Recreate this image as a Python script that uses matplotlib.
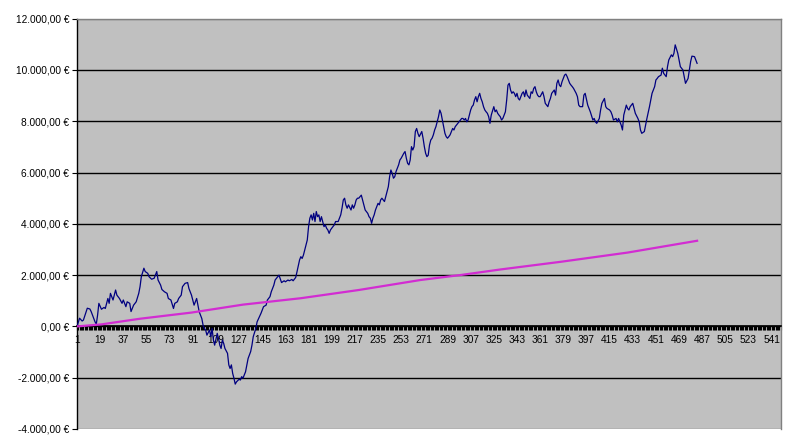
import matplotlib
matplotlib.use('Agg')
from matplotlib import pyplot as plt
from matplotlib.ticker import FuncFormatter

# blue series: day number -> balance in EUR
navy_day = [
    1, 3, 5, 6, 9, 11, 12, 15, 16, 17,
    18, 20, 22, 23, 25, 26, 27, 29, 31, 32,
    34, 36, 37, 39, 40, 42, 43, 45, 47, 49,
    50, 51, 53, 54, 56, 57, 59, 61, 63, 64,
    66, 67, 69, 71, 72, 74, 76, 77, 79, 80,
    82,
    83, 85, 87, 88, 90, 91, 92, 94, 95, 96,
    98, 99, 100, 101, 102, 104, 105, 106, 107, 108,
    110, 111, 112, 113, 114, 115, 116, 118, 119, 120,
    121, 122, 123, 124, 125, 127, 128, 129, 130, 132,
    133, 134, 136, 137, 138, 140, 141, 143, 144, 146,
    148, 149, 151, 152, 154, 155, 157, 158, 160, 162,
    163, 165, 166, 168, 169, 171, 172,
    174, 175, 176, 177, 178, 180, 181, 182, 183, 184,
    185, 186, 187, 188, 189, 190, 191, 192, 193, 194,
    195, 196, 197, 198, 199, 201, 202, 204, 205, 206,
    207, 208, 209, 210, 211, 212, 214, 215, 216, 217,
    218, 219, 220, 222, 223, 224, 225, 227, 228, 229,
    230, 231, 232, 233, 234, 235, 236, 237, 238, 240,
    241, 242, 243, 244, 245, 246, 247, 248, 249, 250,
    251, 252, 253, 255, 256, 257, 258, 259, 260,
    261, 262, 263, 264, 265, 266, 267, 269, 270, 271,
    272, 273, 274, 275, 276, 277, 278, 279, 280, 281,
    282, 283, 284, 285, 286, 287, 288, 289, 290, 291,
    292, 293, 294, 295, 297, 298, 299, 300, 301, 302,
    303, 304, 305, 306, 307, 308, 309, 310, 311, 312,
    313, 314, 315, 316, 317, 318, 319, 320, 321, 322,
    323, 325, 326, 327, 328, 329, 330, 331, 332, 333,
    334, 335, 336, 337, 338, 339, 340, 341, 342, 343,
    344, 345, 346, 347, 348, 349, 350, 351, 353, 354,
    355, 356, 357, 358, 359, 360, 361,
    363, 364, 365, 367, 368, 369, 370, 372, 373, 374,
    375, 376, 377, 378, 380, 381, 382, 383, 384, 385,
    386, 387, 389, 390, 391, 392, 394, 395, 396, 398,
    399, 400, 402, 403, 404, 405, 407, 408, 409, 411,
    412, 413, 415, 416, 417, 418, 420, 421, 422, 424,
    425, 426, 428, 429, 430, 431, 433, 434, 435, 437,
    438, 439, 440, 442, 443, 444, 446, 447, 448, 450,
    451, 452, 453,
    455, 456, 457, 459, 460, 461, 463, 464, 465, 466,
    468, 469, 470, 472, 473, 474, 476, 477, 478, 479,
    481, 482, 483,
]
navy_eur = [
    0, 320, 210, 250, 710, 680, 580, 180, 90, 440,
    900, 670, 740, 700, 1090, 900, 1290, 1030, 1420, 1220,
    1090, 900, 1030, 770, 960, 900, 580, 830, 960, 1290,
    1550, 1940, 2270, 2140, 2070, 1940, 1840, 1880, 2140, 1810,
    1610, 1440, 1350, 1290, 1090, 1030, 700, 900, 960, 1090,
    1220,
    1550, 1680, 1710, 1480, 1220, 1030, 830, 1090, 830, 570,
    310, 50, -80, -140, -340, -140, -400, -80, -530, -730,
    -270, -470, -730, -860, -530, -660, -860, -1050, -1500, -1640,
    -1500, -1830, -2020, -2250, -2160, -2060, -2090, -1960, -2020, -1770,
    -1500, -1250, -980, -730, -400, -80, 180, 400, 510, 770,
    830, 1030, 1160, 1350, 1610, 1810, 1940, 2000, 1710, 1780,
    1740, 1810, 1780, 1830, 1780, 1910, 2130,
    2590, 2720, 2650, 2780, 2980, 3370, 3890, 4220, 4350, 4150,
    4410, 4090, 4480, 4280, 4350, 4090, 4280, 4090, 3890, 3960,
    3830, 3760, 3630, 3760, 3830, 3960, 4090, 4090, 4220, 4350,
    4610, 4930, 5000, 4740, 4610, 4740, 4540, 4740, 4610, 4740,
    4930, 5000, 5000, 5120, 4930, 4740, 4540, 4410, 4280, 4220,
    4020, 4220, 4350, 4540, 4670, 4800, 4740, 4930, 5000, 4870,
    5060, 5250, 5450, 5840, 6100, 5970, 5780, 5840, 6040, 6170,
    6300, 6490, 6560, 6750, 6820, 6560, 6360, 6300, 6490,
    7010, 6880, 7010, 7600, 7720, 7530, 7400, 7600, 7340, 7010,
    6750, 6620, 6680, 7070, 7270, 7340, 7470, 7660, 7790, 7980,
    8180, 8440, 8310, 8050, 7790, 7530, 7400, 7340, 7400, 7470,
    7600, 7720, 7660, 7790, 7920, 7980, 8050, 8110, 8110, 8050,
    8110, 7980, 8050, 8240, 8440, 8570, 8630, 8830, 8960, 8760,
    8960, 9090, 8890, 8760, 8570, 8440, 8370, 8310, 8180, 7920,
    8240, 8570, 8370, 8440, 8310, 8240, 8180, 8050, 8110, 8240,
    8370, 8830, 9410, 9480, 9220, 9090, 9150, 9090, 8960, 9090,
    8890, 8830, 8960, 9090, 9150, 8960, 9220, 9020, 8890, 9150,
    9090, 9280, 9350, 9150, 9020, 8960, 8960,
    9150, 8960, 8700, 8570, 8760, 8890, 9090, 9220, 9020, 9480,
    9610, 9410, 9350, 9540, 9800, 9840, 9740, 9610, 9480, 9410,
    9350, 9280, 9090, 8960, 8630, 8570, 8570, 9020, 9090, 8630,
    8500, 8370, 8050, 8110, 7980, 7920, 8110, 8440, 8700, 8890,
    8570, 8500, 8440, 8370, 8240, 8050, 8110, 7980, 8110, 7850,
    7660, 8240, 8630, 8500, 8440, 8570, 8700, 8500, 8310, 8110,
    7980, 7660, 7530, 7600, 7850, 8110, 8570, 8830, 9090, 9350,
    9610, 9670, 9740,
    9800, 10070, 9870, 9740, 10130, 10390, 10590, 10520, 10650, 10980,
    10650, 10390, 10130, 10000, 9740, 9480, 9670, 10000, 10330, 10540,
    10520, 10390, 10260,
]

# magenta series
pink_day = [1, 20, 50, 90, 130, 175, 220, 268, 300, 330, 377, 429, 483]
pink_eur = [0, 80, 300, 540, 850, 1100, 1420, 1810, 2010, 2220, 2520, 2880, 3340]

n_days = 548
label_days = list(range(1, 542, 18))
y_ticks = [-4000, -2000, 0, 2000, 4000, 6000, 8000, 10000, 12000]


def euro(v, pos=None):
    s = '{:,.2f}'.format(v)
    s = s.replace(',', 'X').replace('.', ',').replace('X', '.')
    return s + ' €'


if __name__ == '__main__':
    plt.rcParams['font.family'] = ['Liberation Sans', 'DejaVu Sans']
    fig = plt.figure(figsize=(7.89, 4.45), dpi=100)
    ax = fig.add_axes([77 / 789, 1 - 429 / 445, (780.7 - 77) / 789, (429 - 18.7) / 445])
    ax.set_facecolor('#C0C0C0')

    ax.plot(navy_day, navy_eur, color='#000080', lw=0.9, zorder=3)
    ax.plot(pink_day, pink_eur, color='#D22CD2', lw=1.6, zorder=4)

    ax.set_xlim(1, n_days)
    ax.set_ylim(-4000, 12000)

    ax.set_yticks(y_ticks)
    ax.yaxis.set_major_formatter(FuncFormatter(euro))
    ax.grid(axis='y', color='black', lw=1)
    gl = ax.get_ygridlines()
    gl[0].set_color('#808080')
    gl[-1].set_color('#808080')
    ax.set_axisbelow(True)

    ax.set_xticks(label_days)
    ax.set_xticklabels([str(d) for d in label_days])
    ax.set_xticks(range(1, n_days + 1), minor=True)

    ax.spines['bottom'].set_position(('data', 0))
    ax.spines['bottom'].set_color('black')
    ax.spines['bottom'].set_linewidth(1.2)
    ax.spines['left'].set_color('black')
    ax.spines['left'].set_linewidth(1)
    for s in ['top', 'right']:
        ax.spines[s].set_color('#808080')
        ax.spines[s].set_linewidth(1)

    ax.tick_params(axis='x', which='both', direction='out', length=3, width=0.8,
                   color='black', labelsize=7.3, pad=3.5)
    ax.tick_params(axis='y', which='major', direction='out', length=3.6, width=0.8,
                   color='black', labelsize=7.3, pad=2)

    fig.savefig('out.png', dpi=100)
